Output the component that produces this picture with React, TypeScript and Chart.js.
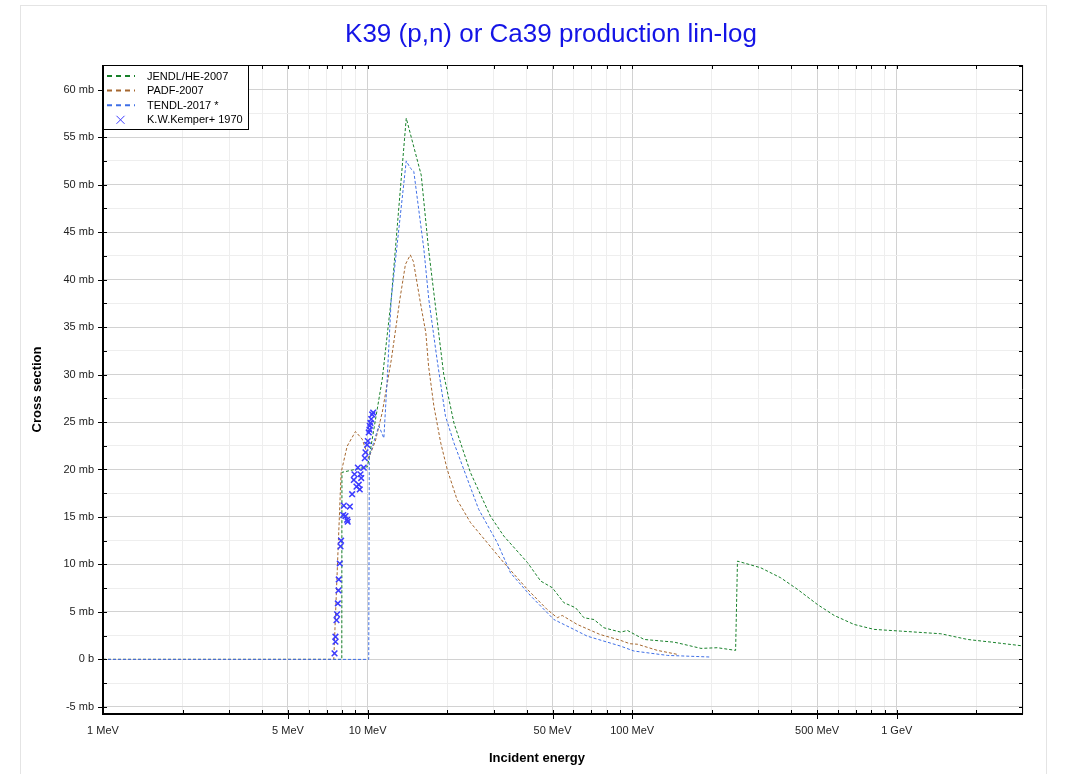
import React, { useEffect, useRef } from "react";
import { Chart, registerables } from "chart.js";

Chart.register(...registerables);

// ---------- DATA ----------
const jendlEnergy = [1, 7.99, 8.0, 10.0, 11.36, 12.28, 14.0, 15.95, 17.0, 19.4, 21.2, 24.5, 29.1, 32.7, 40.2, 45.1, 49.9, 55.2, 61.1, 65.7, 71.7, 78.2, 90.5, 95.9, 111, 144, 157, 182, 210, 246, 250, 306, 364, 422, 501, 580, 690, 821, 1035, 1468, 1853, 2270, 3000];
const jendlXs = [0, 0, 19.7, 20.3, 29.5, 37.9, 57.0, 51.0, 43.2, 30.0, 24.9, 19.65, 15.1, 13.0, 10.2, 8.25, 7.55, 5.97, 5.44, 4.39, 4.2, 3.33, 2.87, 3.05, 2.1, 1.82, 1.58, 1.16, 1.23, 0.95, 10.35, 9.65, 8.6, 7.37, 5.79, 4.63, 3.68, 3.16, 2.98, 2.7, 2.1, 1.82, 1.42];

const padfEnergy = [1, 7.45, 7.94, 8.37, 9.0, 9.54, 10.1, 10.7, 11.36, 12.3, 13.24, 13.9, 14.5, 14.9, 15.85, 16.6, 17.0, 17.8, 18.9, 20.0, 21.8, 24.5, 28.3, 32.7, 40.2, 47.7, 52.1, 54.4, 62.0, 75.5, 90.5, 98, 104.6, 124.5, 150];
const padfXs = [0, 0, 19.65, 22.45, 24.0, 23.2, 21.2, 23.0, 26.0, 31.6, 37.9, 41.6, 42.6, 41.9, 37.5, 34.4, 30.9, 26.7, 22.8, 20.0, 16.8, 14.4, 12.3, 10.2, 7.37, 5.26, 4.39, 4.63, 3.68, 2.63, 2.0, 1.65, 1.6, 0.95, 0.5];

const tendlEnergy = [1, 10.1, 10.15, 11.03, 11.52, 11.86, 12.28, 14.0, 14.5, 14.95, 16.32, 17.04, 18.3, 19.7, 21.2, 23.1, 26.3, 30.9, 34.7, 41.3, 50.6, 60.2, 67.6, 90.4, 101.6, 136, 198];
const tendlXs = [0, 0, 21.4, 24.6, 23.3, 29.5, 37.9, 52.5, 51.75, 51.4, 43.2, 37.9, 31.6, 25.6, 22.8, 20.0, 15.8, 12.3, 9.1, 6.7, 4.2, 3.16, 2.45, 1.4, 0.88, 0.42, 0.25];

const kemperEnergy = [7.50, 7.56, 7.56, 7.63, 7.67, 7.72, 7.76, 7.78, 7.85, 7.90, 7.94, 8.09, 8.13, 8.25, 8.37, 8.41, 8.57, 8.74, 8.87, 8.92, 9.08, 9.19, 9.26, 9.34, 9.40, 9.46, 9.67, 9.76, 9.82, 9.96, 10.02, 10.10, 10.17, 10.19, 10.25, 10.32, 10.41, 10.50];
const kemperXs = [0.63, 1.86, 2.39, 4.14, 4.74, 5.89, 7.26, 8.42, 10.1, 11.9, 12.5, 15.2, 16.2, 15.1, 14.7, 14.5, 16.1, 17.4, 18.9, 19.5, 18.2, 20.2, 18.4, 17.9, 19.5, 19.1, 20.2, 21.2, 21.8, 22.6, 23.0, 23.9, 24.2, 24.6, 24.9, 25.3, 25.8, 26.0];

const seriesLabels = ["JENDL/HE-2007", "PADF-2007", "TENDL-2017 *", "K.W.Kemper+ 1970"];

const xMajorValues = [1, 5, 10, 50, 100, 500, 1000];
const xMajorLabels = ["1 MeV", "5 MeV", "10 MeV", "50 MeV", "100 MeV", "500 MeV", "1 GeV"];
const yMajorValues = [-5, 0, 5, 10, 15, 20, 25, 30, 35, 40, 45, 50, 55, 60];
const yMajorLabels = ["-5 mb", "0 b", "5 mb", "10 mb", "15 mb", "20 mb", "25 mb", "30 mb", "35 mb", "40 mb", "45 mb", "50 mb", "55 mb", "60 mb"];

const titleText = "K39 (p,n) or Ca39 production lin-log";
const xTitleText = "Incident energy";
const yTitleText = "Cross section";

// ---------- HELPERS ----------
const toPoints = (xs: number[], ys: number[]) => xs.map((x, i) => ({ x, y: ys[i] }));

const xAllTicks: number[] = [];
for (let d = 1; d <= 1000; d *= 10) {
  for (let m = 1; m <= 9; m++) {
    const v = m * d;
    if (v <= 3000) xAllTicks.push(v);
  }
}
const yAllTicks: number[] = [];
for (let v = -5; v <= 62.5; v += 2.5) yAllTicks.push(v);

const isXMajor = (v: number) => xMajorValues.some((m) => Math.abs(m - v) < 1e-6 * m);
const isYMajor = (v: number) => yMajorValues.some((m) => Math.abs(m - v) < 1e-6);

const FONT = "'Liberation Sans', Arial, sans-serif";

const GREEN = "#17802a";
const BROWN = "#a5672f";
const BLUE = "#3f6fe6";
const MARK = "#3c3cff";

const decorPlugin = {
  id: "decor",
  beforeDraw(chart: any) {
    const { ctx } = chart;
    ctx.save();
    ctx.strokeStyle = "#e4e4e4";
    ctx.lineWidth = 1;
    ctx.strokeRect(20.5, 5.5, 1026, 780);
    ctx.restore();
  },
  afterDraw(chart: any) {
    const { ctx, chartArea: a, scales } = chart;
    const xs = scales.x;
    const ys = scales.y;
    ctx.save();

    // frame
    ctx.strokeStyle = "#000";
    ctx.lineWidth = 1;
    ctx.beginPath();
    ctx.moveTo(a.left, a.top + 0.5);
    ctx.lineTo(a.right, a.top + 0.5);
    ctx.moveTo(a.right - 0.5, a.top);
    ctx.lineTo(a.right - 0.5, a.bottom);
    ctx.stroke();
    ctx.lineWidth = 2;
    ctx.beginPath();
    ctx.moveTo(a.left, a.top);
    ctx.lineTo(a.left, a.bottom);
    ctx.lineTo(a.right, a.bottom);
    ctx.stroke();

    // ticks
    ctx.lineWidth = 1;
    ctx.beginPath();
    xAllTicks.forEach((v) => {
      const px = Math.round(xs.getPixelForValue(v)) + 0.5;
      if (px < a.left + 1 || px > a.right - 1) return;
      const maj = isXMajor(v);
      ctx.moveTo(px, a.bottom - 4);
      ctx.lineTo(px, a.bottom + (maj ? 5 : 0));
      ctx.moveTo(px, a.top);
      ctx.lineTo(px, a.top + 4);
    });
    yAllTicks.forEach((v) => {
      const py = Math.round(ys.getPixelForValue(v)) + 0.5;
      if (py < a.top + 1 || py > a.bottom - 1) return;
      const maj = isYMajor(v);
      ctx.moveTo(a.left - (maj ? 5 : 0), py);
      ctx.lineTo(a.left + 4, py);
      ctx.moveTo(a.right - 4, py);
      ctx.lineTo(a.right, py);
    });
    ctx.stroke();

    // legend
    const lx = a.left;
    const ly = a.top;
    const lw = 145;
    const lh = 64;
    ctx.fillStyle = "#fff";
    ctx.fillRect(lx, ly, lw, lh);
    ctx.strokeStyle = "#000";
    ctx.lineWidth = 1;
    ctx.strokeRect(lx + 0.5, ly + 0.5, lw, lh);
    const datasets = chart.data.datasets;
    datasets.forEach((ds: any, i: number) => {
      const cy = ly + 11 + i * 14.6;
      if (ds.showLine === false) {
        ctx.strokeStyle = ds.borderColor;
        ctx.lineWidth = 1;
        ctx.setLineDash([]);
        const cx = lx + 17.5;
        ctx.beginPath();
        ctx.moveTo(cx - 4, cy - 4);
        ctx.lineTo(cx + 4, cy + 4);
        ctx.moveTo(cx + 4, cy - 4);
        ctx.lineTo(cx - 4, cy + 4);
        ctx.stroke();
      } else {
        ctx.strokeStyle = ds.borderColor;
        ctx.lineWidth = 2;
        ctx.setLineDash([5, 4]);
        ctx.beginPath();
        ctx.moveTo(lx + 4, cy);
        ctx.lineTo(lx + 32, cy);
        ctx.stroke();
        ctx.setLineDash([]);
      }
      ctx.fillStyle = "#000";
      ctx.font = `11px ${FONT}`;
      ctx.textAlign = "left";
      ctx.textBaseline = "middle";
      ctx.fillText(ds.label, lx + 44, cy + 0.5);
    });

    // titles
    ctx.fillStyle = "#1414e6";
    ctx.font = `26px ${FONT}`;
    ctx.textAlign = "center";
    ctx.textBaseline = "middle";
    ctx.fillText(titleText, 551, 35);

    ctx.fillStyle = "#000";
    ctx.font = `bold 13px ${FONT}`;
    ctx.fillText(xTitleText, 537, 758);
    ctx.save();
    ctx.translate(37, (a.top + a.bottom) / 2);
    ctx.rotate(-Math.PI / 2);
    ctx.fillText(yTitleText, 0, 0);
    ctx.restore();

    ctx.restore();
  },
};

export default function App() {
  const canvasRef = useRef<HTMLCanvasElement | null>(null);

  useEffect(() => {
    const canvas = canvasRef.current;
    if (!canvas) return;
    const lineDs = (label: string, color: string, xs: number[], ys: number[], order: number) => ({
      type: "line" as const,
      label,
      data: toPoints(xs, ys),
      borderColor: color,
      backgroundColor: color,
      borderWidth: 1,
      borderDash: [3, 2],
      pointRadius: 0,
      tension: 0,
      fill: false,
      order,
    });
    const chart = new Chart(canvas, {
      type: "line",
      data: {
        datasets: [
          lineDs(seriesLabels[0], GREEN, jendlEnergy, jendlXs, 3),
          lineDs(seriesLabels[1], BROWN, padfEnergy, padfXs, 2),
          lineDs(seriesLabels[2], BLUE, tendlEnergy, tendlXs, 1),
          {
            type: "scatter" as const,
            label: seriesLabels[3],
            data: toPoints(kemperEnergy, kemperXs),
            showLine: false,
            borderColor: MARK,
            backgroundColor: MARK,
            pointStyle: "crossRot",
            pointRadius: 4,
            borderWidth: 1.5,
            order: 0,
          } as any,
        ],
      },
      options: {
        animation: false,
        responsive: false,
        devicePixelRatio: 1,
        layout: { padding: { left: 0, right: 48, top: 65, bottom: 0 } },
        plugins: {
          legend: { display: false },
          title: { display: false },
          tooltip: { enabled: false },
        },
        scales: {
          x: {
            type: "logarithmic",
            min: 1,
            max: 3000,
            afterBuildTicks: (s: any) => {
              s.ticks = xAllTicks.map((v) => ({ value: v }));
            },
            afterFit: (s: any) => {
              s.height = 60;
            },
            ticks: {
              autoSkip: false,
              maxRotation: 0,
              padding: 10,
              color: "#222",
              font: { family: FONT, size: 11 },
              callback: (v: any) => {
                const i = xMajorValues.findIndex((m) => Math.abs(m - Number(v)) < 1e-6 * m);
                return i >= 0 ? xMajorLabels[i] : "";
              },
            },
            grid: {
              drawTicks: false,
              color: (c: any) => (c.tick && isXMajor(c.tick.value) ? "#d2d2d2" : "#eeeeee"),
            },
            border: { display: false },
          },
          y: {
            type: "linear",
            min: -5.75,
            max: 62.6,
            afterBuildTicks: (s: any) => {
              s.ticks = yAllTicks.map((v) => ({ value: v }));
            },
            afterFit: (s: any) => {
              s.width = 103;
            },
            ticks: {
              autoSkip: false,
              padding: 9,
              color: "#222",
              font: { family: FONT, size: 11 },
              callback: (v: any) => {
                const i = yMajorValues.findIndex((m) => Math.abs(m - Number(v)) < 1e-6);
                return i >= 0 ? yMajorLabels[i] : "";
              },
            },
            grid: {
              drawTicks: false,
              color: (c: any) => (c.tick && isYMajor(c.tick.value) ? "#d2d2d2" : "#eeeeee"),
            },
            border: { display: false },
          },
        },
      } as any,
      plugins: [decorPlugin],
    });
    return () => chart.destroy();
  }, []);

  return (
    <div style={{ position: "fixed", left: 0, top: 0, width: 1071, height: 774, background: "#fff" }}>
      <canvas ref={canvasRef} width={1071} height={774} style={{ display: "block", width: 1071, height: 774 }} />
    </div>
  );
}
